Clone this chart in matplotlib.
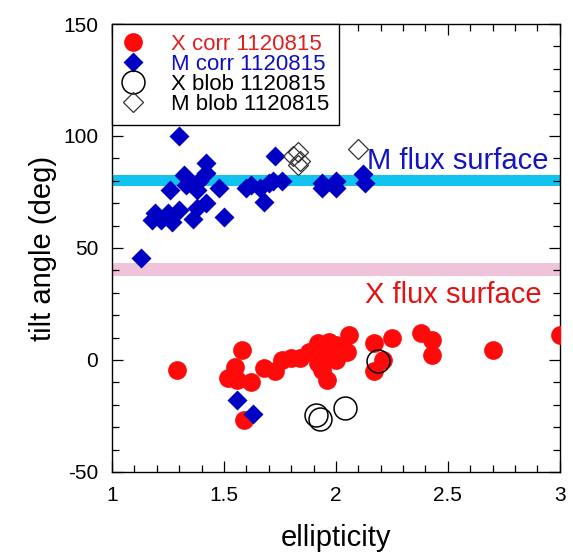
import numpy as np
import matplotlib
matplotlib.use("Agg")
import matplotlib.pyplot as plt
from matplotlib.ticker import MultipleLocator

plt.rcParams['font.family'] = ['Liberation Sans', 'DejaVu Sans']
plt.rcParams['axes.unicode_minus'] = False

# X corr 1120815 (red filled circles)
x_corr_e = [1.29, 1.58, 1.55, 1.52, 1.56, 1.62, 1.59, 1.68, 1.73, 1.76, 1.80, 1.84,
            1.88, 1.92, 1.92, 1.95, 1.96, 1.94, 2.00, 2.00, 2.05, 2.06, 1.97, 2.17,
            2.25, 2.21, 2.17, 2.38, 2.43, 2.43, 2.70, 3.00]
x_corr_t = [-4.5, 4.5, -3, -8, -9, -10, -27, -3.5, -5, 0, 1, 1,
            3.5, 7.5, -1.5, 3, -9, -4.5, 6.5, 0, 3.5, 11, 8, 7.5,
            10, 0, -5, 12, 9, 2, 4.5, 11]

# M corr 1120815 (blue filled diamonds)
m_corr_e = [1.30, 1.13, 1.18, 1.19, 1.22, 1.25, 1.27, 1.30, 1.36, 1.38, 1.42, 1.26,
            1.32, 1.33, 1.36, 1.38, 1.39, 1.42, 1.42, 1.48, 1.50, 1.60, 1.62, 1.66,
            1.68, 1.70, 1.72, 1.73, 1.76, 1.94, 1.94, 2.00, 2.00, 2.12, 2.13, 1.56, 1.63]
m_corr_t = [100, 45.5, 62.5, 65.5, 62.5, 65.5, 61.5, 67, 63, 68, 70, 76,
            82.6, 78, 78, 76, 80, 88, 83.5, 77, 64, 77, 78, 77,
            70.5, 79, 80, 91, 80, 77, 79, 80, 77, 83, 79, -18, -24]

# X blob 1120815 (open circles)
x_blob_e = [1.91, 1.93, 2.04, 2.19]
x_blob_t = [-24.5, -26.5, -21.5, -0.5]

# M blob 1120815 (open diamonds)
m_blob_e = [1.83, 1.81, 1.83, 1.84, 2.10]
m_blob_t = [93, 91, 87, 89, 94]

m_surface = (77.5, 82.5)
x_surface = (37.5, 43.3)

fig = plt.figure(figsize=(5.73, 5.52), dpi=100)
ax = fig.add_axes([0.1955, 0.145, 0.7815, 0.8115])

ax.axhspan(*m_surface, color='#12c3f0', lw=0, zorder=1)
ax.axhspan(*x_surface, color='#efc3da', lw=0, zorder=1)

ax.plot(x_corr_e, x_corr_t, 'o', color='#ff0a0a', ms=13.5, mec='none', ls='none',
        zorder=3, label='X corr 1120815')
ax.plot(m_corr_e, m_corr_t, 'D', color='#0000c4', ms=10.5, mec='none', ls='none',
        zorder=4, label='M corr 1120815')
ax.plot(x_blob_e, x_blob_t, 'o', mfc='none', mec='black', mew=1.1, ms=16.5,
        ls='none', zorder=5, label='X blob 1120815')
ax.plot(m_blob_e, m_blob_t, 'D', mfc='none', mec='#333333', mew=0.9, ms=10.5,
        ls='none', zorder=5, label='M blob 1120815')

ax.text(2.14, 89, 'M flux surface', color='#1414c0', fontsize=21, va='center', ha='left')
ax.text(2.13, 29, 'X flux surface', color='#e01414', fontsize=21, va='center', ha='left')

ax.set_xlim(1, 3)
ax.set_ylim(-50, 150)
ax.xaxis.set_major_locator(MultipleLocator(0.5))
ax.xaxis.set_minor_locator(MultipleLocator(0.1))
ax.yaxis.set_major_locator(MultipleLocator(50))
ax.yaxis.set_minor_locator(MultipleLocator(10))
ax.set_xticks([1, 1.5, 2, 2.5, 3])
ax.set_xticklabels(['1', '1.5', '2', '2.5', '3'])
ax.tick_params(which='both', direction='in', top=True, right=True, labelsize=15, width=0.9)
ax.tick_params(which='major', length=8, pad=10)
ax.tick_params(which='minor', length=5)
for s in ax.spines.values():
    s.set_linewidth(1.0)

ax.set_xlabel('ellipticity', fontsize=21, labelpad=14)
ax.set_ylabel('tilt angle (deg)', fontsize=21, labelpad=4)

leg = ax.legend(loc='upper left', bbox_to_anchor=(0, 1), borderaxespad=0,
                fancybox=False, framealpha=1, edgecolor='black', fontsize=16,
                handlelength=1.0, handletextpad=1.2, labelspacing=-0.05,
                borderpad=0.45)
leg.get_frame().set_linewidth(1.0)
leg.set_zorder(10)
for t, c in zip(leg.get_texts(), ['#e02020', '#1010c0', 'black', 'black']):
    t.set_color(c)

fig.savefig('out.png', dpi=100)
